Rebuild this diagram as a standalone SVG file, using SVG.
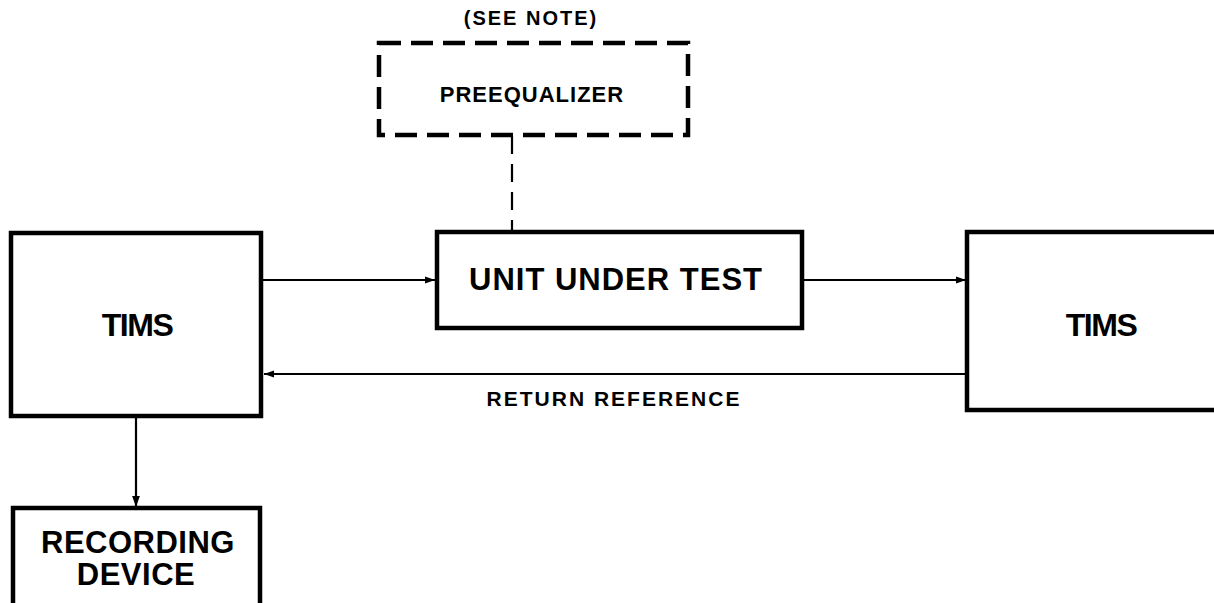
<svg xmlns="http://www.w3.org/2000/svg" width="1214" height="603" viewBox="0 0 1214 603">
<style>
.box{fill:#fff;stroke:#000;stroke-width:4.5}
.dash{fill:none;stroke:#000;stroke-width:4.5;stroke-dasharray:22 10}
.ln{fill:none;stroke:#000;stroke-width:2.2}
.t{font-family:"Liberation Sans",Arial,sans-serif;font-weight:bold;fill:#000;text-anchor:middle}
</style>
<defs>
<marker id="ah" viewBox="0 0 10 10" refX="10" refY="5" markerWidth="18" markerHeight="10" markerUnits="userSpaceOnUse" orient="auto">
<path d="M0,1.5 L10,5 L0,8.5 Z" fill="#000"/>
</marker>
<marker id="ahd" viewBox="0 0 10 10" refX="10" refY="5" markerWidth="24" markerHeight="11" markerUnits="userSpaceOnUse" orient="auto">
<path d="M0,1.5 L10,5 L0,8.5 Z" fill="#000"/>
</marker>
</defs>
<g id="connectors">
<line class="ln" x1="262" y1="280" x2="435" y2="280" marker-end="url(#ah)"/>
<line class="ln" x1="802" y1="280" x2="966" y2="280" marker-end="url(#ah)"/>
<line class="ln" x1="967" y1="374" x2="264" y2="374" marker-end="url(#ah)"/>
<line class="ln" x1="136" y1="417" x2="136" y2="507" marker-end="url(#ahd)" stroke-width="3"/>
<line class="ln" x1="512" y1="136" x2="512" y2="231" stroke-dasharray="18 10" stroke-width="2.5"/>
</g>
<g id="note">
<text class="t" x="531" y="25" font-size="20" letter-spacing="2">(SEE NOTE)</text>
</g>
<g id="preequalizer">
<rect class="dash" x="379" y="43" width="309" height="92"/>
<text class="t" x="532" y="102" font-size="22" letter-spacing="1">PREEQUALIZER</text>
</g>
<g id="tims-left">
<rect class="box" x="11" y="233" width="250" height="183"/>
<text class="t" x="137" y="336" font-size="32" letter-spacing="-1.5">TIMS</text>
</g>
<g id="uut">
<rect class="box" x="437" y="232" width="365" height="96"/>
<text class="t" x="616" y="290" font-size="31" letter-spacing="1">UNIT UNDER TEST</text>
</g>
<g id="tims-right">
<rect class="box" x="967" y="232" width="260" height="178"/>
<text class="t" x="1101" y="336" font-size="32" letter-spacing="-1.5">TIMS</text>
</g>
<g id="return-label">
<text class="t" x="614" y="406" font-size="21" letter-spacing="2">RETURN REFERENCE</text>
</g>
<g id="recording">
<rect class="box" x="13" y="508" width="247" height="110"/>
<text class="t" x="138" y="553" font-size="31" letter-spacing="0.5">RECORDING</text>
<text class="t" x="136" y="585" font-size="31" letter-spacing="0.5">DEVICE</text>
</g>
</svg>
